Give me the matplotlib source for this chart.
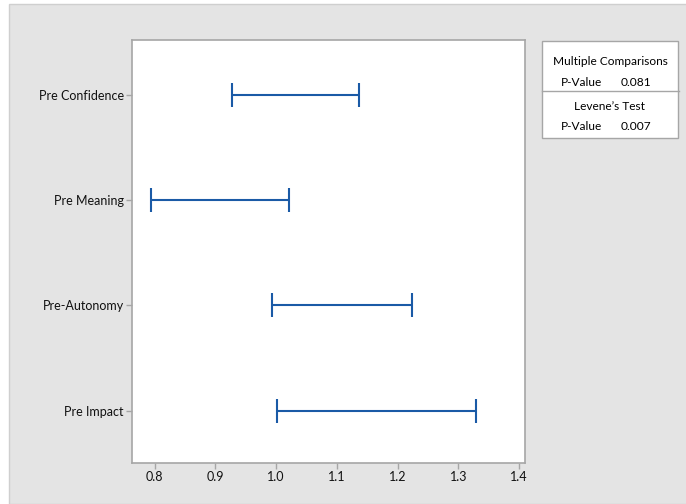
import matplotlib
matplotlib.use('Agg')
import matplotlib.pyplot as plt
from matplotlib.patches import Rectangle

plt.rcParams['font.family'] = ['Lato', 'DejaVu Sans']

# data
groups = ['Pre Impact', 'Pre-Autonomy', 'Pre Meaning', 'Pre Confidence']
lower = [1.002, 0.994, 0.794, 0.927]
upper = [1.330, 1.224, 1.022, 1.137]
xticks = [0.8, 0.9, 1.0, 1.1, 1.2, 1.3, 1.4]
mc_pvalue = '0.081'
levene_pvalue = '0.007'

W, H = 686, 504
fig = plt.figure(figsize=(W / 100, H / 100), dpi=100, facecolor='white')

# gray panel behind everything
fig.patches.append(Rectangle((9 / W, 0), 1, 1 - 4 / H, transform=fig.transFigure,
                             facecolor='#e4e4e4', edgecolor='#cfcfcf', lw=1, zorder=-1))

ax = fig.add_axes([132 / W, (H - 463) / H, (525 - 132) / W, (463 - 40) / H])
ax.set_facecolor('white')

ypos = list(range(1, len(groups) + 1))
mid = [(a + b) / 2 for a, b in zip(lower, upper)]
half = [(b - a) / 2 for a, b in zip(lower, upper)]
ax.errorbar(mid, ypos, xerr=half, fmt='none', ecolor='#1a5aa6',
            elinewidth=1.5, capsize=8.5, capthick=1.5)

ax.set_xlim(0.7626, 1.4099)
ax.set_ylim(0.505, 4.52)
ax.set_xticks(xticks)
ax.set_xticklabels(['%.1f' % t for t in xticks])
ax.set_yticks(ypos)
ax.set_yticklabels(groups)

for s in ax.spines.values():
    s.set_color('#a6a6a6')
    s.set_linewidth(1.2)
ax.tick_params(axis='both', colors='#a6a6a6', labelcolor='#111111', labelsize=9,
               length=4, width=1, pad=2)

# summary box on the right
bx0, bx1 = 542 / W, 678 / W
by0, by1 = 1 - 138 / H, 1 - 41 / H
fig.patches.append(Rectangle((bx0, by0), bx1 - bx0, by1 - by0, transform=fig.transFigure,
                             facecolor='white', edgecolor='#a6a6a6', lw=1))
fig.add_artist(plt.Line2D([bx0, 679 / W], [1 - 91 / H, 1 - 91 / H],
                          transform=fig.transFigure, color='#a6a6a6', lw=1))
cx = (bx0 + bx1) / 2
fs = 8.6
fig.text(cx, 1 - 61.5 / H, 'Multiple Comparisons', ha='center', va='center', fontsize=fs)
fig.text(561 / W, 1 - 82 / H, 'P-Value', ha='left', va='center', fontsize=fs)
fig.text(621 / W, 1 - 82 / H, mc_pvalue, ha='left', va='center', fontsize=fs)
fig.text(cx, 1 - 106 / H, 'Levene\u2019s Test', ha='center', va='center', fontsize=fs)
fig.text(561 / W, 1 - 127 / H, 'P-Value', ha='left', va='center', fontsize=fs)
fig.text(621 / W, 1 - 127 / H, levene_pvalue, ha='left', va='center', fontsize=fs)

fig.savefig('out.png', dpi=100, facecolor=fig.get_facecolor())
